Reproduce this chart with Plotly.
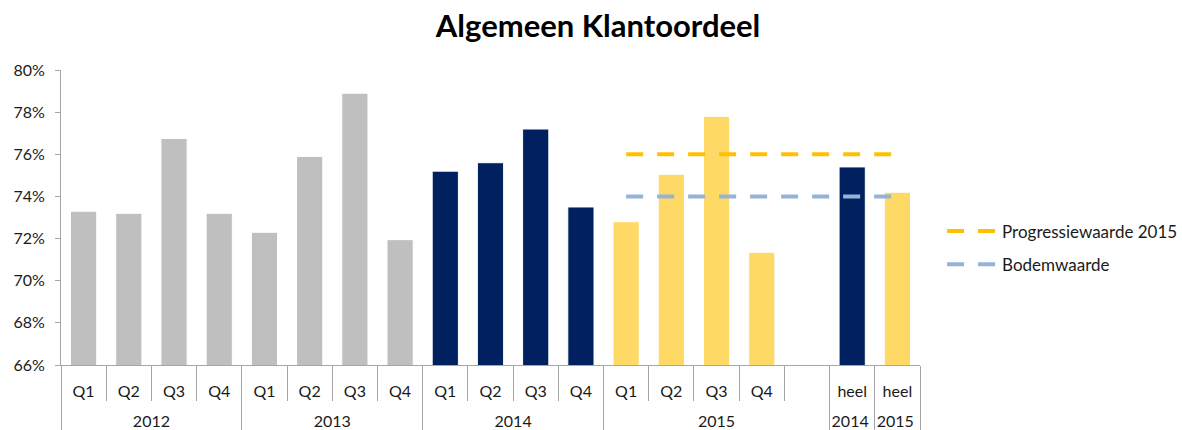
import plotly.graph_objects as go

# --- data ---
NB = "<br>\u00a0"  # second (empty) line under inner labels, pushes year row down
outer = ["2012"] * 4 + ["2013"] * 4 + ["2014"] * 4 + ["2015"] * 5 + ["2014 ", "2015 "]
quarters = ["Q1", "Q2", "Q3", "Q4"]
inner = [q + NB for q in quarters] * 4 + [" " + NB, "heel" + NB, "heel" + NB]
values = [73.3, 73.2, 76.75, 73.2,
          72.3, 75.9, 78.9, 71.95,
          75.2, 75.6, 77.2, 73.5,
          72.8, 75.05, 77.8, 71.35,
          None, 75.4, 74.2]
bar_colors = (["#BFBFBF"] * 8 + ["#002060"] * 4 + ["#FFD966"] * 5
              + ["#002060", "#FFD966"])

line_outer = ["2015"] * 5 + ["2014 ", "2015 "]
line_inner = [q + NB for q in quarters] + [" " + NB, "heel" + NB, "heel" + NB]
progressie = [76, 76, 76, 76, 76, 76, 76]
bodem = [74, 74, 74, 74, 74, 74, 74]

FONT = "Lato"
TXT = "#1a1a1a"
AXC = "#A6A6A6"

fig = go.Figure()
fig.add_trace(go.Bar(
    x=[outer, inner], y=values,
    marker=dict(color=bar_colors, line=dict(color="white", width=1)),
    showlegend=False, hoverinfo="y",
))
fig.add_trace(go.Scatter(
    x=[line_outer, line_inner], y=progressie, mode="lines",
    name="Progressiewaarde 2015", legendgroup="a",
    line=dict(color="#FFC000", width=4, dash="17px,14px"),
))
fig.add_trace(go.Scatter(
    x=[line_outer, line_inner], y=bodem, mode="lines",
    name="Bodemwaarde", legendgroup="b",
    line=dict(color="#95B3D7", width=4, dash="17px,14px"),
))

fig.update_layout(
    width=1182, height=430,
    margin=dict(l=61, r=262, t=70, b=65),
    paper_bgcolor="white", plot_bgcolor="white",
    font=dict(family=FONT, size=16, color=TXT),
    title=dict(text="<b>Algemeen Klantoordeel</b>", x=0.506, xanchor="center",
               y=0.9395, yref="container", yanchor="middle",
               font=dict(family=FONT, size=31, color="#000000")),
    bargap=0.42,
    legend=dict(x=0.797, y=0.4233, xref="container", yref="container",
                xanchor="left", yanchor="middle",
                font=dict(family=FONT, size=17, color=TXT),
                bgcolor="rgba(0,0,0,0)", tracegroupgap=8,
                traceorder="grouped", itemwidth=50),
)
fig.update_yaxes(
    range=[66, 80], dtick=2, ticksuffix="%",
    showgrid=False, zeroline=False, automargin=False,
    showline=True, linecolor=AXC, linewidth=1,
    ticks="outside", ticklen=5, tickcolor=AXC,
    ticklabelstandoff=7,
    tickfont=dict(size=16),
)
fig.update_xaxes(
    type="multicategory", automargin=False,
    showgrid=False, zeroline=False,
    showline=True, linecolor=AXC, linewidth=1, mirror=False,
    ticks="outside", tickson="boundaries", ticklen=35, tickcolor=AXC,
    ticklabelstandoff=12,
    showdividers=True, dividercolor=AXC, dividerwidth=1,
    tickfont=dict(size=16),
)

fig.write_html("out.html", config={"displayModeBar": False},
               post_script="document.body.style.margin='0';")
